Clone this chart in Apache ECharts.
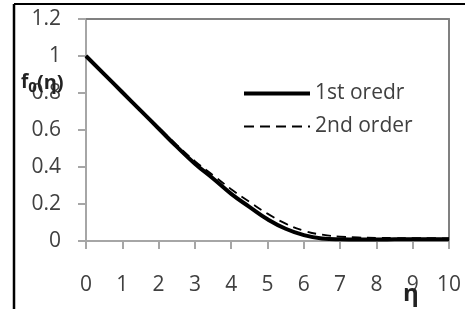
<!DOCTYPE html>
<html>
<head>
<meta charset="utf-8">
<script src="https://cdn.jsdelivr.net/npm/echarts@6/dist/echarts.min.js"></script>
<style>
html,body{margin:0;padding:0;background:#fff;}
#c{width:465px;height:309px;}
</style>
</head>
<body>
<div id="c"></div>
<script>
const etaFirst = [0,0.5,1,1.5,2,2.5,3,3.5,4,4.5,5,5.5,6,6.5,7,7.5,8,8.5,9,9.5,10];
const firstOrder = [1.0,0.902,0.804,0.706,0.608,0.51,0.418,0.338,0.255,0.185,0.118,0.066,0.032,0.014,0.009,0.008,0.008,0.009,0.01,0.01,0.01];
const etaSecond = [0,0.5,1,1.5,2,2.5,3,3.5,4,4.5,5,5.5,6,6.5,7,7.5,8,8.5,9,9.5,10];
const secondOrder = [1.0,0.902,0.805,0.709,0.614,0.52,0.432,0.356,0.28,0.212,0.148,0.094,0.056,0.034,0.024,0.019,0.017,0.016,0.015,0.015,0.014];
const seriesNames = ['1st oredr','2nd order'];

const chart = echarts.init(document.getElementById('c'), null, {renderer:'canvas'});
const labelFont = {fontFamily:'Open Sans', fontSize:21, color:'#404040'};
chart.setOption({
  animation:false,
  backgroundColor:'#fff',
  grid:{left:86, top:19, right:16, bottom:68},
  legend:{
    orient:'vertical', left:237, top:78, itemWidth:66, itemHeight:14, itemGap:12,
    itemStyle:{opacity:0},
    textStyle:{fontFamily:'Open Sans', fontSize:21, color:'#404040'},
    data:[
      {name:seriesNames[0], lineStyle:{width:4, color:'#000'}},
      {name:seriesNames[1], lineStyle:{width:1.8, color:'#000', type:[10,6]}}
    ]
  },
  xAxis:[{
    type:'value', min:0, max:10, interval:1,
    axisLine:{lineStyle:{color:'#a6a6a6', width:2}},
    axisTick:{show:true, inside:false, length:8, lineStyle:{color:'#a6a6a6', width:2}},
    axisLabel:Object.assign({margin:34}, labelFont),
    splitLine:{show:false}
  },{
    type:'value', min:0, max:10, position:'top',
    axisLine:{show:true, onZero:false, lineStyle:{color:'#808080', width:2}},
    axisTick:{show:false}, axisLabel:{show:false}, splitLine:{show:false}
  }],
  yAxis:[{
    type:'value', min:0, max:1.2, interval:0.2,
    axisLine:{show:true, lineStyle:{color:'#a6a6a6', width:2}},
    axisTick:{show:true, length:8, lineStyle:{color:'#a6a6a6', width:2}},
    axisLabel:Object.assign({margin:25}, labelFont),
    splitLine:{show:false}
  },{
    type:'value', min:0, max:1.2, position:'right',
    axisLine:{show:true, onZero:false, lineStyle:{color:'#808080', width:2}},
    axisTick:{show:false}, axisLabel:{show:false}, splitLine:{show:false}
  }],
  series:[{
    name:seriesNames[0], type:'line', smooth:true, symbol:'none',
    data:etaFirst.map((x,i)=>[x, firstOrder[i]]),
    lineStyle:{color:'#000', width:4}, itemStyle:{color:'#000'}, z:3
  },{
    name:seriesNames[1], type:'line', smooth:true, symbol:'none',
    data:etaSecond.map((x,i)=>[x, secondOrder[i]]),
    lineStyle:{color:'#000', width:1.8, type:[9,6]}, itemStyle:{color:'#000'}, z:4
  }],
  graphic:[
    {type:'line', shape:{x1:14, y1:4, x2:465, y2:4}, style:{stroke:'#000', lineWidth:2}},
    {type:'line', shape:{x1:14, y1:4, x2:14, y2:309}, style:{stroke:'#000', lineWidth:2.5}},
    {type:'text', left:21, top:73, z:10, style:{
      text:'{f|f}{s|0}{n|(η)}',
      rich:{
        f:{fontFamily:'Open Sans', fontWeight:'bold', fontSize:19, fill:'#222'},
        s:{fontFamily:'Open Sans', fontWeight:'bold', fontSize:15, fill:'#222', padding:[10,0,0,0]},
        n:{fontFamily:'Open Sans', fontWeight:'bold', fontSize:20, fill:'#222'}
      }
    }},
    {type:'text', left:403, top:282, z:10, style:{text:'η', fontFamily:'Open Sans', fontWeight:'bold', fontSize:24, fill:'#222'}}
  ]
});
</script>
</body>
</html>
